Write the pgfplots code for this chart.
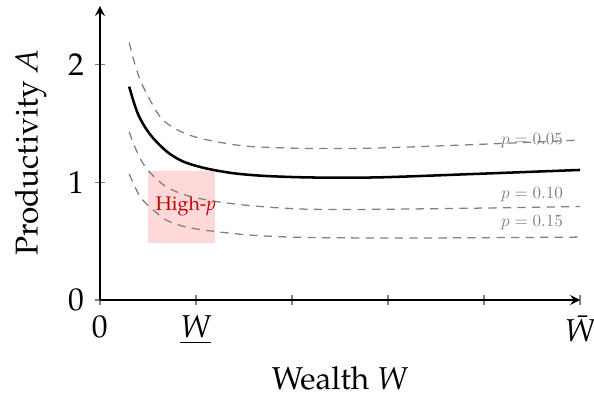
\documentclass[border=0pt]{standalone}
\usepackage[T1]{fontenc}
\usepackage{palatino}
\usepackage{graphicx}
\usepackage{pgfplots}
\pgfplotsset{compat=1.18}
\begin{document}
\begin{tikzpicture}
\useasboundingbox (-31.6pt,-31.6pt) rectangle (156.3pt,94.9pt);
\begin{axis}[
  scale only axis=true,
  width=151.9pt, height=93pt,
  xmin=0, xmax=5, ymin=0, ymax=2.5,
  axis lines=left,
  clip=false,
  xtick={0,1,2,3,4,5},
  xticklabels={0,\underline{\textit{W}},{},{},{},\textit{\=W}},
  ytick={0,1,2},
  yticklabels={0,1,2},
  tick align=center,
  major tick length=3pt,
  tick style={gray, thin},
  xlabel={Wealth \textit{W}},
  ylabel={Productivity \textit{A}},
]
\fill[red!15] (axis cs:0.503,0.488) rectangle (axis cs:1.2,1.098);
\node[text=red!75!black, font=\fontsize{6.2}{7}\selectfont] at (axis cs:0.896,0.794) {High-\textit{p}};
\addplot[gray, thin, dash pattern=on 2.6pt off 2pt, smooth] coordinates {
(0.305,2.19) (0.37,1.99) (0.45,1.815) (0.625,1.56) (0.8,1.45) (1.04,1.376) (1.5,1.31) (2.08,1.29) (2.5,1.288) (3.0,1.295) (4.0,1.325) (5.0,1.36)};
\addplot[gray, thin, dash pattern=on 2.6pt off 2pt, smooth] coordinates {
(0.305,1.43) (0.37,1.29) (0.45,1.16) (0.55,1.06) (0.69,0.964) (0.9,0.89) (1.215,0.837) (1.6,0.80) (2.08,0.774) (2.5,0.77) (3.0,0.772) (4.0,0.782) (5.0,0.795)};
\addplot[gray, thin, dash pattern=on 2.6pt off 2pt, smooth] coordinates {
(0.305,1.072) (0.417,0.88) (0.55,0.77) (0.69,0.68) (0.9,0.62) (1.215,0.581) (1.6,0.55) (2.08,0.533) (3.0,0.527) (4.0,0.53) (5.0,0.535)};
\addplot[black, thick, smooth] coordinates {
(0.305,1.815) (0.35,1.69) (0.40,1.575) (0.47,1.47) (0.555,1.376) (0.7,1.26) (0.868,1.177) (1.1,1.12) (1.39,1.078) (1.7,1.056) (2.08,1.044) (2.5,1.04) (3.0,1.045) (4.0,1.075) (5.0,1.106)};
\node[gray] at (axis cs:4.5,1.356) {\scalebox{0.54}{$p=0.05$}};
\node[gray] at (axis cs:4.5,0.90) {\scalebox{0.54}{$p=0.10$}};
\node[gray] at (axis cs:4.5,0.658) {\scalebox{0.54}{$p=0.15$}};
\end{axis}
\end{tikzpicture}
\end{document}
